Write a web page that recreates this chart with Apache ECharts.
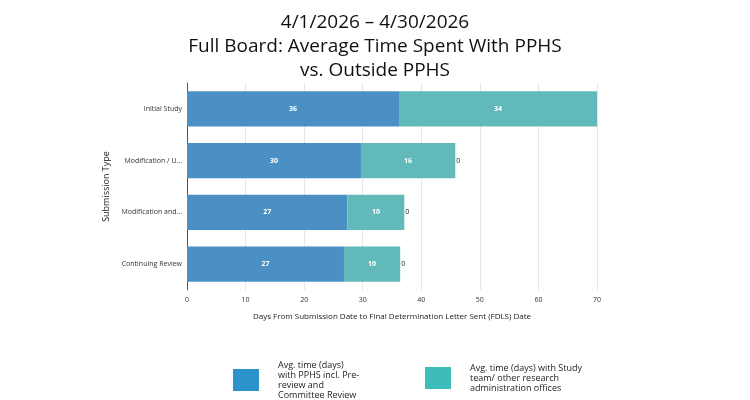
<!DOCTYPE html>
<html>
<head>
<meta charset="utf-8">
<script src="https://cdn.jsdelivr.net/npm/echarts@6/dist/echarts.min.js"></script>
<style>html,body{margin:0;padding:0;background:#fff}#chart{width:750px;height:400px}</style>
</head>
<body>
<div id="chart"></div>
<script>
var categories = ['Initial Study', 'Modification / U...', 'Modification and...', 'Continuing Review'];
var pphsDays = [36.2, 29.7, 27.4, 26.8];
var outsideDays = [34.2, 16.1, 9.7, 9.6];
var otherDays = [0, 0, 0, 0];
var pphsName = 'Avg. time (days)\nwith PPHS incl. Pre-\nreview and\nCommittee Review';
var outsideName = 'Avg. time (days) with Study\nteam/ other research\nadministration offices';

var myChart = echarts.init(document.getElementById('chart'));
var font = 'Open Sans';
var option = {
    title: {
        text: '4/1/2026 \u2013 4/30/2026\nFull Board: Average Time Spent With PPHS\nvs. Outside PPHS',
        left: 'center',
        top: 6,
        textStyle: { fontFamily: font, fontWeight: 'normal', fontSize: 19, lineHeight: 24, color: '#111' }
    },
    legend: [
        {
            data: [{ name: pphsName, itemStyle: { color: '#2b92cc' } }],
            left: 228, top: 355, itemWidth: 26, itemHeight: 22, icon: 'rect', itemGap: 0,
            textStyle: { fontFamily: font, fontSize: 9, lineHeight: 10, color: '#222', padding: [0, 0, 0, 14] }
        },
        {
            data: [{ name: outsideName, itemStyle: { color: '#3dbcb9' } }],
            left: 420, top: 358, itemWidth: 26, itemHeight: 22, icon: 'rect', itemGap: 0,
            textStyle: { fontFamily: font, fontSize: 9, lineHeight: 10, color: '#222', padding: [0, 0, 0, 14] }
        }
    ],
    grid: { left: 187, right: 153, top: 83, bottom: 110 },
    xAxis: {
        type: 'value', min: 0, max: 70, interval: 10,
        name: 'Days From Submission Date to Final Determination Letter Sent (FDLS) Date',
        nameLocation: 'middle', nameGap: 23,
        nameTextStyle: { fontFamily: font, fontSize: 8, color: '#222' },
        axisLabel: { fontFamily: font, fontSize: 7, color: '#333', margin: 6 },
        axisLine: { show: false },
        splitLine: { lineStyle: { color: '#e6e6e6' } }
    },
    yAxis: {
        type: 'category', data: categories, inverse: true,
        name: 'Submission Type', nameLocation: 'middle', nameGap: 66, nameRotate: 90,
        nameTextStyle: { fontFamily: font, fontSize: 9, color: '#222' },
        axisLabel: { fontFamily: font, fontSize: 7, color: '#333', margin: 5 },
        axisLine: { lineStyle: { color: '#555' } },
        axisTick: { lineStyle: { color: '#555' } }
    },
    series: [
        {
            name: pphsName, type: 'bar', stack: 'a', data: pphsDays, barWidth: '68%',
            itemStyle: { color: '#4a90c4' },
            label: { show: true, formatter: function (p) { return Math.round(p.value); }, color: '#fff', fontFamily: font, fontSize: 7, fontWeight: 'bold' }
        },
        {
            name: outsideName, type: 'bar', stack: 'a', data: outsideDays,
            itemStyle: { color: '#62b9ba' },
            label: { show: true, formatter: function (p) { return Math.round(p.value); }, color: '#fff', fontFamily: font, fontSize: 7, fontWeight: 'bold' }
        },
        {
            name: 'Other', type: 'bar', stack: 'a', data: otherDays,
            itemStyle: { color: '#999' },
            label: { show: true, position: 'right', distance: 1, color: '#222', fontFamily: font, fontSize: 7 }
        }
    ]
};
myChart.setOption(option);
</script>
</body>
</html>
